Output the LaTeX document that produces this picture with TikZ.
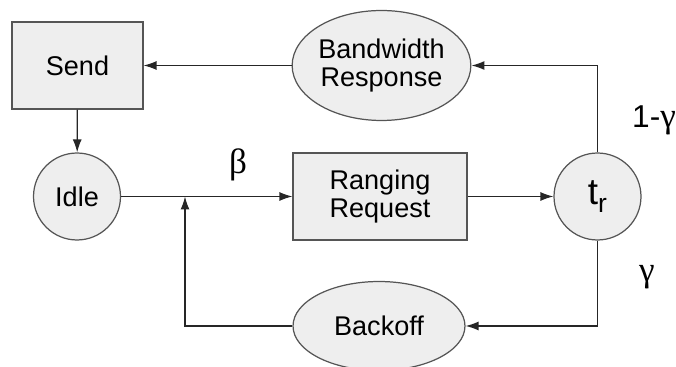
\documentclass[tikz,border=0pt]{standalone}
\usepackage{fontspec}
\setmainfont{Liberation Sans}
\newfontfamily\grkfont{Liberation Serif}
\usetikzlibrary{shapes.geometric,arrows.meta}
\definecolor{stategray}{RGB}{238,238,238}
\definecolor{edgegray}{RGB}{85,85,85}

\begin{document}
\begin{tikzpicture}[x=0.02cm, y=-0.02cm, line width=0.7pt,
    every node/.style={font=\fontsize{15.4}{15.5}\selectfont, align=center, inner sep=0pt},
    statebox/.style={draw=edgegray, fill=stategray, rectangle, minimum height=1.74cm},
    stateoval/.style={draw=edgegray, fill=stategray, ellipse},
    statedot/.style={draw=edgegray, fill=stategray, circle, minimum size=1.74cm},
    flow/.style={-{Latex[length=2.6mm,width=1.8mm]}, draw=black!85}]
                \useasboundingbox (0,0) rectangle (676,367);
                \node[statebox, minimum width=2.62cm] (send) at (77.5,65.5) {Send};
                \node[stateoval, minimum width=3.46cm, minimum height=2.2cm] (bw) at (381.5,65.5) {Bandwidth\\Response};
                \node[statedot] (idle) at (77,196.5) {Idle};
                \node[statebox, minimum width=3.48cm] (rr) at (380,196.5) {Ranging\\Request};
                \node[statedot] (tr) at (597.5,196.5) {\fontsize{21}{21}\selectfont t\raisebox{-0.45ex}{\fontsize{15}{15}\selectfont r}};
                \node[stateoval, minimum width=3.44cm, minimum height=1.78cm] (bo) at (379,326) {Backoff};
                \coordinate (join) at (185,196.5);
                \draw[flow] (bw) -- (send);
                \draw[flow] (send) -- (idle);
                \draw[flow] (idle) -- (rr);
                \draw[flow] (rr) -- (tr);
                \draw[flow] (tr) |- (bw);
                \draw[flow] (tr) |- (bo);
                \draw[flow] (bo) -| (join);
                \node (beta) at (238,165) {\grkfont\fontsize{20}{20}\selectfont β};
                \node (pfail) at (654,120) {\fontsize{18}{18}\selectfont 1-{\grkfont\fontsize{20}{20}\selectfont γ}};
                \node (pcoll) at (647,277) {\grkfont\fontsize{20}{20}\selectfont γ};
            \end{tikzpicture}
\end{document}
